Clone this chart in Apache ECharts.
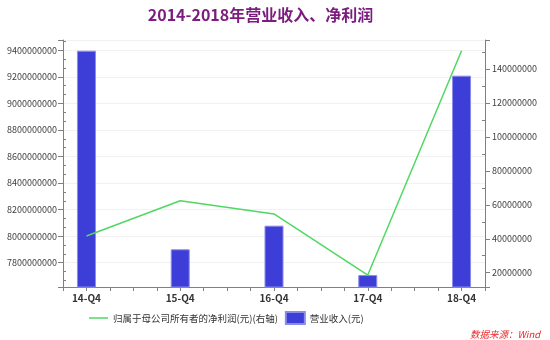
<!DOCTYPE html>
<html>
<head>
<meta charset="utf-8">
<script src="https://cdn.jsdelivr.net/npm/echarts@6/dist/echarts.min.js"></script>
<style>
  html, body { margin: 0; padding: 0; background: #ffffff; }
  #chart { width: 550px; height: 340px; }
</style>
</head>
<body>
<div id="chart"></div>
<script>
// Quarter labels along the x axis
const categories = ['14-Q4', '15-Q4', '16-Q4', '17-Q4', '18-Q4'];
// 营业收入 (元), left axis
const revenue = [9397000000, 7901000000, 8079000000, 7707000000, 9209000000];
// 归属于母公司所有者的净利润 (元), right axis
const netProfit = [41600000, 62400000, 54600000, 18600000, 150800000];
// Axis ranges and label steps
const leftRange = [7617000000, 9477600000];
const leftStep = 200000000;
const rightRange = [11580000, 157100000];
const rightStep = 20000000;

const FONT = '"Noto Sans CJK SC", "Noto Sans", sans-serif';
const AXIS_COLOR = '#808080';
const PLOT_LEFT = 63;
const PLOT_RIGHT = 65;
const PLOT_WIDTH = 550 - PLOT_LEFT - PLOT_RIGHT;
const GRID = { left: PLOT_LEFT, right: PLOT_RIGHT, top: 40, bottom: 53, outerBoundsMode: 'none' };

const barData = revenue.map((v, i) => [i, v]);
const lineData = netProfit.map((v, i) => [i, v]);

const chart = echarts.init(document.getElementById('chart'), null, { renderer: 'canvas' });

// Twin axis that only draws short minor ticks pointing into the plot
function minorTickAxis(position, range, splitNumber, minorSplit) {
  return {
    type: 'value',
    gridIndex: 1,
    position: position,
    offset: -PLOT_WIDTH,
    min: range[0],
    max: range[1],
    splitNumber: splitNumber,
    axisLine: { show: false, onZero: false },
    axisTick: { show: false },
    axisLabel: { show: false },
    splitLine: { show: false },
    minorTick: { show: true, splitNumber: minorSplit, length: 3, lineStyle: { color: AXIS_COLOR } }
  };
}

chart.setOption({
  animation: false,
  backgroundColor: '#ffffff',
  textStyle: { fontFamily: FONT },
  grid: [
    Object.assign({}, GRID),
    Object.assign({}, GRID)
  ],
  xAxis: [
    {
      type: 'value',
      gridIndex: 0,
      min: -0.25,
      max: 4.25,
      interval: 0.25,
      axisLine: { show: true, onZero: false, lineStyle: { color: AXIS_COLOR, width: 1 } },
      axisTick: { show: true, length: 4, lineStyle: { color: AXIS_COLOR } },
      splitLine: { show: false },
      axisLabel: {
        margin: 6,
        fontFamily: FONT,
        fontSize: 10,
        fontWeight: 'bold',
        color: '#333333',
        formatter: v => (Number.isInteger(v) && categories[v] !== undefined ? categories[v] : '')
      }
    },
    { type: 'value', gridIndex: 1, min: 0, max: 1, show: false, axisLine: { onZero: false } }
  ],
  yAxis: [
    {
      type: 'value',
      gridIndex: 0,
      position: 'left',
      min: leftRange[0],
      max: leftRange[1],
      splitNumber: 9,
      axisLine: { show: true, onZero: false, lineStyle: { color: AXIS_COLOR, width: 1 } },
      axisTick: { show: true, length: 5, lineStyle: { color: AXIS_COLOR } },
      splitLine: { show: true, lineStyle: { color: '#f1f1f1', width: 1 } },
      axisLabel: {
        margin: 6,
        fontFamily: FONT,
        fontSize: 9,
        color: '#404040',
        formatter: v => (Math.round(v) % leftStep === 0 ? String(Math.round(v)) : '')
      }
    },
    {
      type: 'value',
      gridIndex: 0,
      position: 'right',
      min: rightRange[0],
      max: rightRange[1],
      splitNumber: 7,
      axisLine: { show: true, onZero: false, lineStyle: { color: AXIS_COLOR, width: 1 } },
      axisTick: { show: true, length: 5, lineStyle: { color: AXIS_COLOR } },
      splitLine: { show: false },
      axisLabel: {
        margin: 7,
        fontFamily: FONT,
        fontSize: 9,
        color: '#404040',
        formatter: v => (Math.round(v) % rightStep === 0 ? String(Math.round(v)) : '')
      }
    },
    // Placed on the opposite side and shifted across the plot so ticks point inward
    minorTickAxis('right', leftRange, 9, 3),
    minorTickAxis('left', rightRange, 7, 2)
  ],
  legend: {
    left: 89,
    top: 311,
    itemWidth: 19,
    itemHeight: 12,
    itemGap: 7,
    padding: 0,
    textStyle: { fontFamily: FONT, fontSize: 9.5, color: '#333333' },
    data: [
      { name: '归属于母公司所有者的净利润(元)(右轴)', icon: 'path://M0,0 L38,0 L38,3 L0,3 Z' },
      { name: '营业收入(元)', icon: 'rect' }
    ]
  },
  graphic: [
    {
      type: 'text',
      x: 260.5,
      y: 15,
      style: {
        text: '2014-2018年营业收入、净利润',
        fontFamily: FONT,
        fontSize: 16,
        fontWeight: 'bold',
        fill: '#7b1c7e',
        textAlign: 'center',
        textVerticalAlign: 'middle'
      }
    },
    {
      type: 'text',
      x: 470,
      y: 334,
      style: {
        text: '数据来源：Wind',
        fontFamily: FONT,
        fontSize: 9.5,
        fontStyle: 'italic',
        fill: '#e8262a',
        textAlign: 'left',
        textVerticalAlign: 'middle'
      }
    }
  ],
  series: [
    {
      name: '营业收入(元)',
      type: 'bar',
      xAxisIndex: 0,
      yAxisIndex: 0,
      barWidth: 19,
      data: barData,
      itemStyle: { color: '#3d3dd8', borderColor: '#8b8bea', borderWidth: 1 }
    },
    {
      name: '归属于母公司所有者的净利润(元)(右轴)',
      type: 'line',
      xAxisIndex: 0,
      yAxisIndex: 1,
      symbol: 'none',
      data: lineData,
      lineStyle: { color: '#4fd862', width: 1.5 },
      itemStyle: { color: '#4fd862' },
      z: 3
    }
  ]
});
</script>
</body>
</html>
